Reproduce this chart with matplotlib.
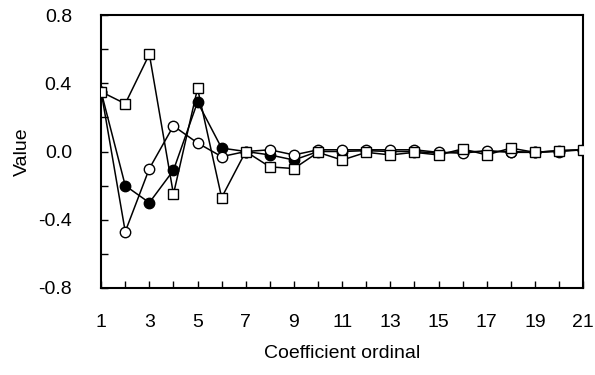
import matplotlib
matplotlib.use("Agg")
import matplotlib.pyplot as plt

plt.rcParams['font.family'] = ['Liberation Sans', 'DejaVu Sans']

ordinal = list(range(1, 22))
filled = [0.35, -0.20, -0.30, -0.11, 0.29, 0.02, 0.00, -0.02, -0.05, 0.00,
          0.00, 0.005, 0.00, 0.00, -0.01, 0.00, 0.00, 0.00, -0.005, 0.00, 0.01]
hollow = [0.35, -0.47, -0.10, 0.15, 0.05, -0.03, 0.00, 0.01, -0.02, 0.01,
          0.01, 0.01, 0.01, 0.01, -0.005, -0.01, 0.005, -0.005, -0.005, 0.005, 0.01]
square = [0.35, 0.28, 0.57, -0.25, 0.37, -0.27, 0.00, -0.09, -0.10, -0.005,
          -0.05, -0.005, -0.02, -0.005, -0.02, 0.015, -0.02, 0.02, -0.005, 0.005, 0.01]

xticks = list(range(1, 22))
xlabels = [str(i) if i % 2 == 1 else "" for i in xticks]
yticks = [-0.8, -0.6, -0.4, -0.2, 0.0, 0.2, 0.4, 0.6, 0.8]
ylabels = ["-0.8", "", "-0.4", "", "0.0", "", "0.4", "", "0.8"]

fig = plt.figure(figsize=(5.95, 3.75), dpi=100)
ax = fig.add_axes([0.170, 0.232, 0.810, 0.728])

ax.plot(ordinal, filled, color="k", lw=1.1, marker="o", ms=7.5,
        mfc="k", mec="k", mew=1.0, zorder=3)
ax.plot(ordinal, hollow, color="k", lw=1.1, marker="o", ms=7.5,
        mfc="white", mec="k", mew=1.0, zorder=4)
ax.plot(ordinal, square, color="k", lw=1.1, marker="s", ms=7.5,
        mfc="white", mec="k", mew=1.0, zorder=5)

ax.set_xlim(1, 21)
ax.set_ylim(-0.8, 0.8)
ax.set_xticks(xticks)
ax.set_xticklabels(xlabels)
ax.set_yticks(yticks)
ax.set_yticklabels(ylabels)
ax.tick_params(direction="in", length=5, width=1, labelsize=14)
ax.tick_params(axis="x", pad=19)
ax.tick_params(axis="y", pad=21)
for s in ax.spines.values():
    s.set_linewidth(1.5)
ax.set_xlabel("Coefficient ordinal", fontsize=14, labelpad=10)
ax.set_ylabel("Value", fontsize=14, labelpad=5)

fig.savefig("out.png", dpi=100)
